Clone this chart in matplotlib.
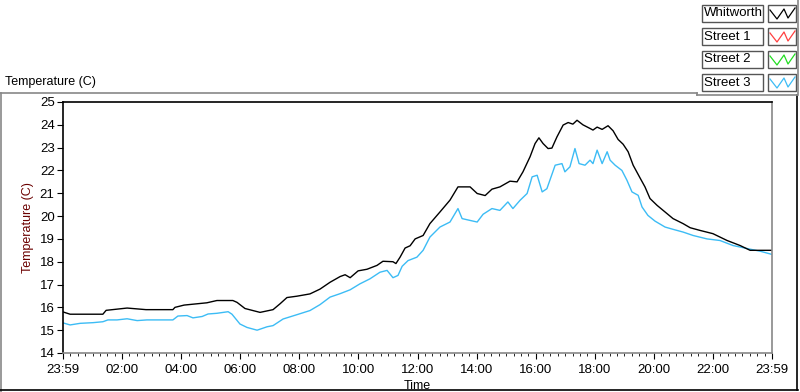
import matplotlib
matplotlib.use("Agg")
import matplotlib.pyplot as plt
from matplotlib.patches import Rectangle
from matplotlib.lines import Line2D
from matplotlib.ticker import MultipleLocator

plt.rcParams['font.family'] = ['Liberation Sans', 'DejaVu Sans']

# === Data: hours since 23:59, temperatures ===
whit_hours = [0.00, 0.24, 1.35, 1.46, 2.17, 2.81, 3.72, 3.79, 4.10, 4.87, 5.21, 5.75,
              5.89, 6.16, 6.67, 7.11, 7.35, 7.58, 7.92, 8.36, 8.70, 9.04, 9.38, 9.55,
              9.72, 9.99, 10.29, 10.63, 10.83, 11.17, 11.27, 11.41, 11.58, 11.75, 11.92,
              12.19, 12.42, 12.76, 13.10, 13.37, 13.78, 14.02, 14.29, 14.52, 14.79, 15.13,
              15.37, 15.57, 15.81, 15.98, 16.11, 16.25, 16.42, 16.55, 16.72, 16.93, 17.10,
              17.26, 17.40, 17.60, 17.84, 17.94, 18.08, 18.25, 18.45, 18.62, 18.79, 18.96,
              19.13, 19.30, 19.53, 19.70, 19.87, 20.11, 20.38, 20.65, 20.99, 21.23, 21.57,
              22.00, 22.48, 22.92, 23.26, 24.00]
whit_temp = [15.8, 15.7, 15.7, 15.87, 15.97, 15.9, 15.9, 16.0, 16.1, 16.2, 16.3, 16.3,
             16.22, 15.95, 15.78, 15.9, 16.16, 16.43, 16.49, 16.59, 16.8, 17.1, 17.35, 17.43,
             17.3, 17.6, 17.67, 17.84, 18.02, 18.0, 17.92, 18.2, 18.6, 18.7, 19.0,
             19.15, 19.67, 20.18, 20.7, 21.28, 21.28, 20.99, 20.9, 21.18, 21.28, 21.53,
             21.5, 21.94, 22.6, 23.18, 23.43, 23.18, 22.96, 22.98, 23.47, 23.99, 24.1,
             24.03, 24.2, 24.0, 23.84, 23.77, 23.9, 23.8, 23.96, 23.74, 23.36, 23.15,
             22.82, 22.23, 21.68, 21.28, 20.77, 20.47, 20.18, 19.89, 19.67, 19.49, 19.37,
             19.23, 18.93, 18.71, 18.5, 18.5]

st3_hours = [0.00, 0.24, 0.58, 1.02, 1.35, 1.52, 1.83, 2.17, 2.51, 2.84, 3.72, 3.89,
             4.20, 4.40, 4.71, 4.91, 5.21, 5.59, 5.72, 5.99, 6.23, 6.57, 6.91, 7.11,
             7.45, 7.92, 8.36, 8.70, 9.04, 9.38, 9.72, 10.05, 10.39, 10.73, 10.97, 11.17,
             11.34, 11.48, 11.68, 11.98, 12.19, 12.42, 12.76, 13.10, 13.37, 13.51, 13.78,
             14.02, 14.22, 14.52, 14.79, 15.06, 15.23, 15.47, 15.71, 15.88, 16.05, 16.22,
             16.38, 16.66, 16.89, 16.99, 17.16, 17.33, 17.47, 17.67, 17.84, 17.94, 18.08,
             18.25, 18.42, 18.52, 18.69, 18.92, 19.09, 19.26, 19.47, 19.60, 19.80, 20.04,
             20.38, 20.65, 20.99, 21.33, 21.80, 22.24, 22.68, 23.26, 23.60, 24.00]
st3_temp = [15.32, 15.23, 15.3, 15.33, 15.37, 15.45, 15.45, 15.5, 15.42, 15.45, 15.45, 15.62,
            15.64, 15.54, 15.6, 15.71, 15.74, 15.81, 15.7, 15.27, 15.12, 15.0, 15.15, 15.2,
            15.49, 15.68, 15.86, 16.12, 16.45, 16.6, 16.77, 17.03, 17.25, 17.54, 17.62, 17.3,
            17.4, 17.8, 18.05, 18.2, 18.5, 19.08, 19.52, 19.74, 20.33, 19.89, 19.81,
            19.74, 20.08, 20.33, 20.25, 20.62, 20.33, 20.69, 20.99, 21.72, 21.79, 21.06,
            21.2, 22.23, 22.3, 21.94, 22.16, 22.96, 22.3, 22.23, 22.45, 22.3, 22.89,
            22.3, 22.82, 22.45, 22.23, 22.0, 21.57, 21.06, 20.91, 20.4, 20.03, 19.78,
            19.52, 19.42, 19.3, 19.15, 19.0, 18.93, 18.71, 18.55, 18.46, 18.32]

st1_hours, st1_temp = [], []
st2_hours, st2_temp = [], []

series_names = ["Whitworth", "Street 1", "Street 2", "Street 3"]
series_colors = ["black", "#ff4040", "#22dd22", "#3cbcf5"]

tick_hours = [0, 2, 4, 6, 8, 10, 12, 14, 16, 18, 20, 22, 24]
tick_labels = ["23:59", "02:00", "04:00", "06:00", "08:00", "10:00", "12:00",
               "14:00", "16:00", "18:00", "20:00", "22:00", "23:59"]

# === Figure ===
W, H = 800, 392
fig = plt.figure(figsize=(W / 100, H / 100), dpi=100)
ax = fig.add_axes([63 / W, 1 - 353 / H, (772 - 63) / W, (353 - 102) / H])

series = [(whit_hours, whit_temp), (st1_hours, st1_temp),
          (st2_hours, st2_temp), (st3_hours, st3_temp)]
# draw street 3 first so Whitworth sits on top
for i in [3, 1, 2, 0]:
    hx, ty = series[i]
    ax.plot(hx, ty, color=series_colors[i], lw=1.0)

ax.set_xlim(0, 24)
ax.set_ylim(14, 25)
ax.set_yticks(range(14, 26))
ax.set_xticks(tick_hours)
ax.set_xticklabels(tick_labels)
ax.xaxis.set_minor_locator(MultipleLocator(0.25))
ax.tick_params(axis='both', labelsize=9.5, colors='black', direction='out')
ax.tick_params(axis='x', which='major', length=4, pad=4)
ax.tick_params(axis='x', which='minor', length=2.5)
ax.tick_params(axis='y', length=4, pad=2)

for side in ['left', 'top']:
    ax.spines[side].set_color('black')
for side in ['right', 'bottom']:
    ax.spines[side].set_color('#888888')
for s in ax.spines.values():
    s.set_linewidth(1.2)

ax.set_ylabel("Temperature (C)", fontsize=9, color='#6b0000', labelpad=4)
ax.set_xlabel("Time", fontsize=9, labelpad=3)

# === Panel frame ===
def hline(x0, x1, y, c):
    fig.add_artist(Line2D([x0 / W, x1 / W], [1 - y / H, 1 - y / H], color=c, lw=1.2))

def vline(x, y0, y1, c):
    fig.add_artist(Line2D([x / W, x / W], [1 - y0 / H, 1 - y1 / H], color=c, lw=1.2))

hline(0, 697, 92.5, '#888888')
vline(1, 92.5, 392, '#888888')
hline(0, 798, 390, 'black')
vline(797, 95, 390, 'black')
hline(697, 797, 95, '#888888')
vline(697, 92.5, 95, '#888888')
vline(797.5, 0, 95, '#888888')

fig.text(5 / W, 1 - 82 / H, "Temperature (C)", fontsize=9, va='center', ha='left')

# === Legend (label boxes + line glyphs) ===
for k, (name, col) in enumerate(zip(series_names, series_colors)):
    top = 5 + k * 23
    fig.add_artist(Rectangle((702 / W, 1 - (top + 17) / H), 61 / W, 17 / H,
                             transform=fig.transFigure, fill=False, ec='#555555', lw=1))
    fig.text(704 / W, 1 - (top + 8.5) / H, name, fontsize=9.5, va='center', ha='left')
    fig.add_artist(Rectangle((768 / W, 1 - (top + 17) / H), 28 / W, 17 / H,
                             transform=fig.transFigure, fill=False, ec='#555555', lw=1))
    gx = [770, 777, 784, 788, 795]
    gy = [top + 5, top + 14, top + 4, top + 13, top + 3]
    fig.add_artist(Line2D([v / W for v in gx], [1 - v / H for v in gy], color=col, lw=0.9))

fig.savefig("out.png", dpi=100)
